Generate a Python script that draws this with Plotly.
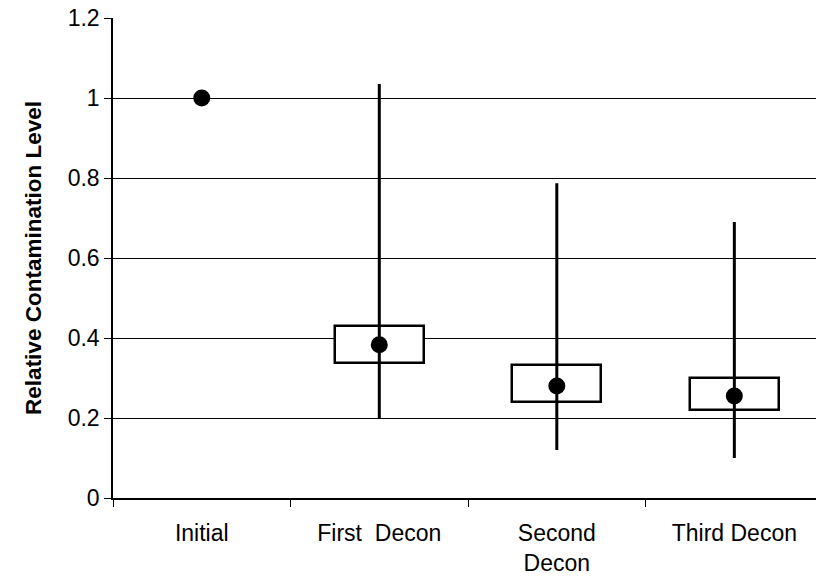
import plotly.graph_objects as go

categories = ["Initial", "First\u00a0 Decon", "Second<br>Decon", "Third Decon"]
means = [1.0, 0.383, 0.28, 0.255]
box_low = [None, 0.337, 0.24, 0.22]
box_high = [None, 0.43, 0.332, 0.30]
whisk_low = [None, 0.20, 0.12, 0.10]
whisk_high = [None, 1.035, 0.787, 0.69]
y_ticks = [0, 0.2, 0.4, 0.6, 0.8, 1.0, 1.2]
y_ticktext = ["0", "0.2", "0.4", "0.6", "0.8", "1", "1.2"]

fig = go.Figure()

# boxes (as floating bars)
bx, bb, bh = [], [], []
for c, lo, hi in zip(categories, box_low, box_high):
    if lo is not None:
        bx.append(c); bb.append(lo); bh.append(hi - lo)
fig.add_trace(go.Bar(x=bx, y=bh, base=bb, width=0.5,
                     marker=dict(color="white", line=dict(color="black", width=2.5)),
                     showlegend=False, hoverinfo="skip"))

# whiskers
wx, wy = [], []
for c, lo, hi in zip(categories, whisk_low, whisk_high):
    if lo is not None:
        wx += [c, c, None]; wy += [lo, hi, None]
fig.add_trace(go.Scatter(x=wx, y=wy, mode="lines",
                         line=dict(color="black", width=3),
                         showlegend=False, hoverinfo="skip"))

# means
fig.add_trace(go.Scatter(x=categories, y=means, mode="markers",
                         marker=dict(color="black", size=17),
                         showlegend=False))

fig.update_layout(
    width=816, height=579,
    margin=dict(l=113, r=0, t=18, b=81),
    plot_bgcolor="white", paper_bgcolor="white",
    font=dict(family="Liberation Sans, Arial, sans-serif", size=22, color="black"),
    bargap=0,
)
fig.update_xaxes(
    type="category", categoryorder="array", categoryarray=categories,
    range=[-0.5, 3.46], automargin=False,
    showgrid=False, showline=True, linecolor="black", linewidth=1.5,
    ticks="outside", tickson="boundaries", ticklen=7, tickcolor="black",
    tickfont=dict(size=23), ticklabelstandoff=14,
)
fig.update_yaxes(
    range=[0, 1.2], tickvals=y_ticks, ticktext=y_ticktext, automargin=False,
    showgrid=True, gridcolor="black", gridwidth=1,
    showline=True, linecolor="black", linewidth=1.5,
    ticks="outside", ticklen=7, tickcolor="black",
    zeroline=False,
    tickfont=dict(size=23),
    title=dict(text="<b>Relative Contamination Level</b>", font=dict(size=22.5), standoff=20),
)

fig.write_html("out.html", config={"displayModeBar": False},
               post_script="document.body.style.margin='0px';")
